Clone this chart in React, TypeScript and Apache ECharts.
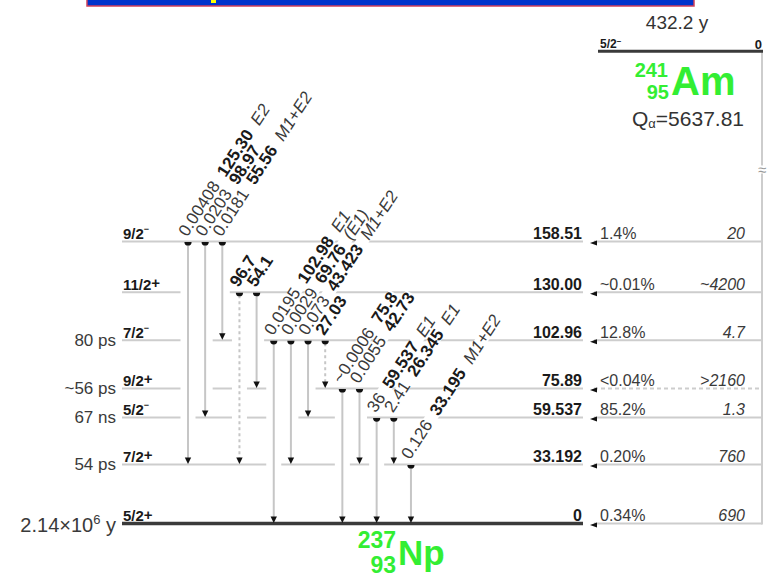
import React, { useEffect, useRef } from 'react';
import * as echarts from 'echarts';

// ---------------- Data ----------------
// Daughter (237Np) levels
const levelEnergies = [158.51, 130.0, 102.96, 75.89, 59.537, 33.192, 0];
const levelEnergyLabels = ['158.51', '130.00', '102.96', '75.89', '59.537', '33.192', '0'];
const levelSpins = ['9/2', '11/2', '7/2', '9/2', '5/2', '7/2', '5/2'];
const levelParities = ['−', '+', '−', '+', '−', '+', '+'];
const levelHalfLives = ['', '', '80 ps', '~56 ps', '67 ns', '54 ps', '2.14×10^6 y'];
// Alpha branches to each level
const alphaIntensities = ['1.4%', '~0.01%', '12.8%', '<0.04%', '85.2%', '0.20%', '0.34%'];
const hindranceFactors = ['20', '~4200', '4.7', '>2160', '1.3', '760', '690'];
const alphaTentative = [false, false, false, true, false, false, false];

// Gamma transitions
const gammaFrom = [158.51, 158.51, 158.51, 130.0, 130.0, 102.96, 102.96, 102.96, 102.96, 75.89, 75.89, 59.537, 59.537, 33.192];
const gammaTo = [33.192, 59.537, 102.96, 33.192, 75.89, 0, 33.192, 59.537, 75.89, 0, 33.192, 0, 33.192, 0];
const gammaEnergies = ['125.30', '98.97', '55.56', '96.7', '54.1', '102.98', '69.76', '43.423', '27.03', '75.8', '42.73', '59.537', '26.345', '33.195'];
const gammaIntensities = ['0.00408', '0.0203', '0.0181', '', '', '0.0195', '0.0029', '0.073', '', '~0.0006', '0.0055', '36', '2.41', '0.126'];
const gammaMultipolarities = ['E2', '', 'M1+E2', '', '', 'E1', '(E1)', 'M1+E2', '', '', '', 'E1', 'E1', 'M1+E2'];
const gammaTentative = [false, false, false, true, false, false, false, false, true, false, false, false, false, false];

// Parent (241Am)
const parentSpin = '5/2';
const parentParity = '−';
const parentEnergyLabel = '0';
const parentHalfLife = '432.2 y';
const parentQ = '5637.81';

// ---------------- Layout ----------------
const W = 773;
const H = 584;
const COL0_PX = 188;
const COL_STEP_PX = 17.15;
const ZERO_PX = 523.5;
const PX_PER_KEV = 1.779;
const X_MIN = -COL0_PX / COL_STEP_PX;
const X_MAX = (W - COL0_PX) / COL_STEP_PX;
const Y_MIN = -(H - ZERO_PX) / PX_PER_KEV;
const Y_MAX = ZERO_PX / PX_PER_KEV;
const PARENT_DISPLAY_KEV = 265.5; // broken energy axis
const BREAK_KEV = 199;
const LINE_L = 122;
const LINE_R = 583;
const ALPHA_TIP = 590;
const RIGHT_X = 762;
const PARENT_L = 600;
const GAP = 7.5;
const ANGLE = (57 * Math.PI) / 180;
const FONT = '"Liberation Sans", Arial, Helvetica, sans-serif';
const GREEN = '#33ee33';
const LEVEL_GREY = '#cdcdcd';
const INK = '#1a1a1a';
const SOFT = '#3a3a3a';

function supRich(text: string, base: string, sup: string) {
  const m = text.split('^');
  if (m.length < 2) return `{${base}|${text}}`;
  const rest = m[1];
  return `{${base}|${m[0]}}{${sup}|${rest[0]}}{${base}|${rest.slice(1)}}`;
}

function renderLevel(params: any, api: any) {
  const i = params.dataIndex;
  const E = api.value(1) as number;
  const y = api.coord([0, E])[1];
  const ground = E === 0;
  const children: any[] = [];

  const passing: number[] = [];
  gammaFrom.forEach((f, j) => {
    if (f > E + 1e-6 && gammaTo[j] < E - 1e-6) passing.push(j);
  });
  const runs: number[][] = [];
  passing.forEach((j) => {
    const last = runs[runs.length - 1];
    if (last && j === last[last.length - 1] + 1) last.push(j);
    else runs.push([j]);
  });
  const gaps = runs.map((r) => [api.coord([r[0], E])[0] - GAP, api.coord([r[r.length - 1], E])[0] + GAP]);
  let start = LINE_L;
  const segs: number[][] = [];
  gaps.forEach((g) => {
    if (g[0] > start) segs.push([start, g[0]]);
    start = Math.max(start, g[1]);
  });
  if (LINE_R > start) segs.push([start, LINE_R]);
  segs.forEach((s) =>
    children.push({
      type: 'line',
      shape: { x1: s[0], y1: y, x2: s[1], y2: y },
      style: { stroke: ground ? '#3a3a3a' : LEVEL_GREY, lineWidth: ground ? 3.5 : 2 },
    })
  );

  const rightStyle: any = { stroke: LEVEL_GREY, lineWidth: 2 };
  if (alphaTentative[i]) rightStyle.lineDash = [4, 3];
  children.push({ type: 'line', shape: { x1: ALPHA_TIP + 4, y1: y, x2: RIGHT_X, y2: y }, style: rightStyle });
  children.push({
    type: 'polygon',
    shape: { points: [[ALPHA_TIP, y + 1.5], [ALPHA_TIP + 7, y - 1], [ALPHA_TIP + 7, y + 4]] },
    style: { fill: '#111' },
  });

  const isPlus = levelParities[i] === '+';
  children.push({
    type: 'text',
    x: LINE_L + 1,
    y: y - 8,
    style: {
      text: `{s|${levelSpins[i]}}{p|${levelParities[i]}}`,
      align: 'left',
      verticalAlign: 'middle',
      rich: {
        s: { fontFamily: FONT, fontSize: 15, fontWeight: 'bold', fill: INK, lineHeight: 18 },
        p: { fontFamily: FONT, fontSize: isPlus ? 15 : 9, fontWeight: 'bold', fill: INK, lineHeight: isPlus ? 14 : 10, verticalAlign: 'top' },
      },
    },
  });
  if (levelHalfLives[i]) {
    const big = ground ? 20 : 17;
    children.push({
      type: 'text',
      x: 116,
      y: y + (ground ? 1 : 0),
      style: {
        text: supRich(levelHalfLives[i], 'n', 'u'),
        align: 'right',
        verticalAlign: 'middle',
        rich: {
          n: { fontFamily: FONT, fontSize: big, fill: SOFT, lineHeight: big + 4 },
          u: { fontFamily: FONT, fontSize: Math.round(big * 0.65), fill: SOFT, lineHeight: Math.round(big * 0.7), verticalAlign: 'top' },
        },
      },
    });
  }
  children.push({
    type: 'text',
    x: LINE_R - 1,
    y: y - 8,
    style: { text: levelEnergyLabels[i], align: 'right', verticalAlign: 'middle', fontFamily: FONT, fontSize: 16, fontWeight: 'bold', fill: INK },
  });
  children.push({
    type: 'text',
    x: 600,
    y: y - 8,
    style: { text: alphaIntensities[i], align: 'left', verticalAlign: 'middle', fontFamily: FONT, fontSize: 16, fill: SOFT },
  });
  children.push({
    type: 'text',
    x: 745,
    y: y - 8,
    style: { text: hindranceFactors[i], align: 'right', verticalAlign: 'middle', fontFamily: FONT, fontSize: 16, fontStyle: 'italic', fill: SOFT },
  });
  return { type: 'group', children };
}

function renderGamma(params: any, api: any) {
  const j = params.dataIndex;
  const [x, y1] = api.coord([api.value(0), api.value(1)]);
  const y2 = api.coord([api.value(0), api.value(2)])[1];
  const lineStyle: any = { stroke: '#c6c6c6', lineWidth: 2 };
  if (gammaTentative[j]) lineStyle.lineDash = [3, 3];
  return {
    type: 'group',
    children: [
      { type: 'line', shape: { x1: x, y1: y1 + 3, x2: x, y2: y2 - 5 }, style: lineStyle },
      { type: 'sector', shape: { cx: x, cy: y1 + 0.5, r: 3.6, r0: 0, startAngle: 0, endAngle: Math.PI, clockwise: true }, style: { fill: '#111' } },
      { type: 'polygon', shape: { points: [[x - 3.2, y2 - 7], [x + 3.2, y2 - 7], [x, y2 - 0.5]] }, style: { fill: '#111' } },
    ],
  };
}

function renderGammaLabel(params: any, api: any) {
  const j = params.dataIndex;
  const [x, y1] = api.coord([api.value(0), api.value(1)]);
  const parts: string[] = [];
  if (gammaIntensities[j]) parts.push(`{i|${gammaIntensities[j]}  }`);
  parts.push(`{e|${gammaEnergies[j]}}`);
  if (gammaMultipolarities[j]) parts.push(`{m|  ${gammaMultipolarities[j]}}`);
  return {
    type: 'text',
    x: x - 1,
    y: y1 - 3,
    rotation: ANGLE,
    style: {
      text: parts.join(''),
      align: 'left',
      verticalAlign: 'bottom',
      backgroundColor: '#ffffff',
      padding: [0, 1],
      rich: {
        i: { fontFamily: FONT, fontSize: 17, fill: SOFT, lineHeight: 12 },
        e: { fontFamily: FONT, fontSize: 17, fontWeight: 'bold', fill: INK, lineHeight: 12 },
        m: { fontFamily: FONT, fontSize: 17, fontStyle: 'italic', fill: SOFT, lineHeight: 12 },
      },
    },
  };
}

function renderParent(params: any, api: any) {
  const y = api.coord([0, api.value(1)])[1];
  const yGround = api.coord([0, 0])[1];
  const yBreak = api.coord([0, BREAK_KEV])[1];
  return {
    type: 'group',
    children: [
      { type: 'line', shape: { x1: RIGHT_X, y1: y, x2: RIGHT_X, y2: yGround + 1 }, style: { stroke: LEVEL_GREY, lineWidth: 2 } },
      { type: 'line', shape: { x1: PARENT_L - 2, y1: y, x2: RIGHT_X + 1, y2: y }, style: { stroke: '#3a3a3a', lineWidth: 3 } },
      {
        type: 'text',
        x: PARENT_L,
        y: y - 7,
        style: {
          text: `{s|${parentSpin}}{p|${parentParity}}`,
          align: 'left',
          verticalAlign: 'middle',
          rich: {
            s: { fontFamily: FONT, fontSize: 12, fontWeight: 'bold', fill: INK, lineHeight: 14 },
            p: { fontFamily: FONT, fontSize: 8, fontWeight: 'bold', fill: INK, lineHeight: 8, verticalAlign: 'top' },
          },
        },
      },
      {
        type: 'text',
        x: RIGHT_X,
        y: y - 7,
        style: { text: parentEnergyLabel, align: 'right', verticalAlign: 'middle', fontFamily: FONT, fontSize: 13, fontWeight: 'bold', fill: INK },
      },
      {
        type: 'text',
        x: RIGHT_X,
        y: yBreak,
        style: { text: '≈', align: 'center', verticalAlign: 'middle', fontFamily: FONT, fontSize: 15, fill: '#999', backgroundColor: '#fff', lineHeight: 8 },
      },
    ],
  };
}

export default function App() {
  const ref = useRef<HTMLDivElement>(null);
  useEffect(() => {
    if (!ref.current) return;
    const chart = echarts.init(ref.current, undefined, { renderer: 'svg' });
    const levelData = levelEnergies.map((e, i) => [i, e]);
    const gammaData = gammaFrom.map((f, j) => [j, f, gammaTo[j]]);
    chart.setOption({
      animation: false,
      backgroundColor: '#ffffff',
      grid: { left: 0, right: 0, top: 0, bottom: 0 },
      xAxis: { type: 'value', min: X_MIN, max: X_MAX, show: false },
      yAxis: { type: 'value', min: Y_MIN, max: Y_MAX, show: false },
      graphic: [
        { type: 'rect', shape: { x: 87, y: -10, width: 607, height: 16 }, style: { fill: '#0033cc', stroke: '#d0405a', lineWidth: 1.5 } },
        { type: 'rect', shape: { x: 211, y: 0, width: 5, height: 3 }, style: { fill: '#ffff00' } },
        { type: 'text', x: 677, y: 22, style: { text: parentHalfLife, align: 'center', verticalAlign: 'middle', fontFamily: FONT, fontSize: 19, fill: '#333' } },
        { type: 'text', x: 668, y: 70, style: { text: '241', align: 'right', verticalAlign: 'middle', fontFamily: FONT, fontSize: 20, fontWeight: 'bold', fill: GREEN, lineHeight: 18 } },
        { type: 'text', x: 669, y: 92, style: { text: '95', align: 'right', verticalAlign: 'middle', fontFamily: FONT, fontSize: 20, fontWeight: 'bold', fill: GREEN, lineHeight: 18 } },
        { type: 'text', x: 671, y: 81, style: { text: 'Am', align: 'left', verticalAlign: 'middle', fontFamily: FONT, fontSize: 40, fontWeight: 'bold', fill: GREEN } },
        {
          type: 'text',
          x: 632,
          y: 118,
          style: {
            text: `{q|Q}{a|α}{q|=${parentQ}}`,
            align: 'left',
            verticalAlign: 'middle',
            rich: {
              q: { fontFamily: FONT, fontSize: 21, fill: '#333', lineHeight: 24 },
              a: { fontFamily: FONT, fontSize: 13, fill: '#333', lineHeight: 14, verticalAlign: 'bottom' },
            },
          },
        },
        { type: 'text', x: 396, y: 540, style: { text: '237', align: 'right', verticalAlign: 'middle', fontFamily: FONT, fontSize: 23, fontWeight: 'bold', fill: GREEN, lineHeight: 20 } },
        { type: 'text', x: 396, y: 565, style: { text: '93', align: 'right', verticalAlign: 'middle', fontFamily: FONT, fontSize: 23, fontWeight: 'bold', fill: GREEN, lineHeight: 20 } },
        { type: 'text', x: 398, y: 552, style: { text: 'Np', align: 'left', verticalAlign: 'middle', fontFamily: FONT, fontSize: 35, fontWeight: 'bold', fill: GREEN } },
      ],
      series: [
        { type: 'custom', z: 1, silent: true, clip: false, data: levelData, encode: { x: 0, y: 1 }, renderItem: renderLevel },
        { type: 'custom', z: 2, silent: true, clip: false, data: [[0, PARENT_DISPLAY_KEV]], encode: { x: 0, y: 1 }, renderItem: renderParent },
        { type: 'custom', z: 3, silent: true, clip: false, data: gammaData, encode: { x: 0, y: [1, 2] }, renderItem: renderGamma },
        { type: 'custom', z: 4, silent: true, clip: false, data: gammaData, encode: { x: 0, y: [1, 2] }, renderItem: renderGammaLabel },
      ],
    });
    return () => chart.dispose();
  }, []);
  return <div ref={ref} style={{ position: 'absolute', left: 0, top: 0, width: W, height: H }} />;
}
